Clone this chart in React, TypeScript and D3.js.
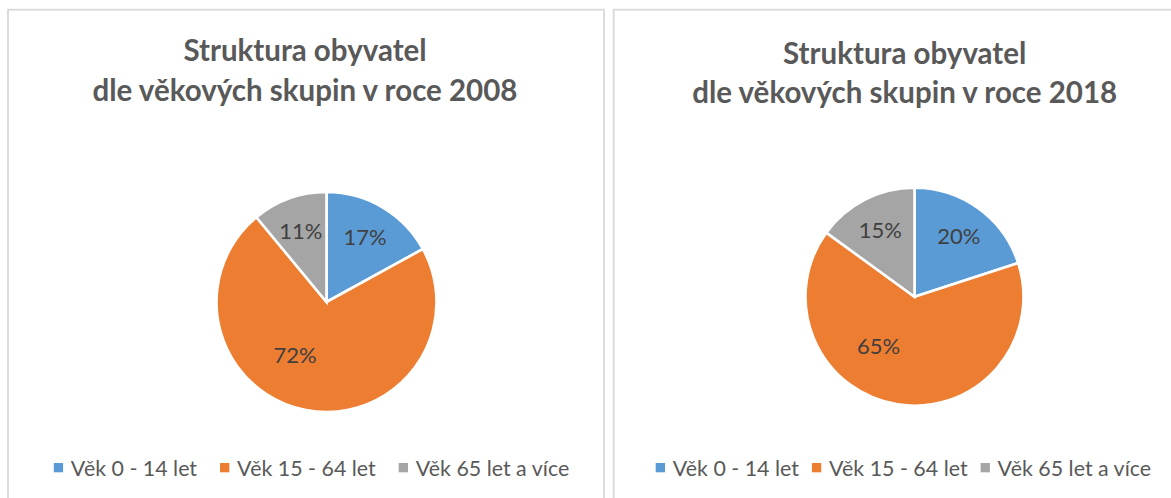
import React, { useEffect, useRef } from "react";
import * as d3 from "d3";

const categories = ["Věk 0 - 14 let", "Věk 15 - 64 let", "Věk 65 let a více"];
const values2008 = [17, 72, 11];
const values2018 = [20, 65, 15];
const titles2008 = ["Struktura obyvatel", "dle věkových skupin v roce 2008"];
const titles2018 = ["Struktura obyvatel", "dle věkových skupin v roce 2018"];
const colors = ["#5B9BD5", "#ED7D31", "#A5A5A5"];

const W = 1171;
const H = 498;
const FONT = "Lato, 'Open Sans', sans-serif";

interface PanelCfg {
  values: number[];
  titles: string[];
  x: number;
  y: number;
  w: number;
  cx: number;
  cy: number;
  r: number;
  titleY: number;
  legendCenter: number;
  legendGap: number;
}

const panels: PanelCfg[] = [
  { values: values2008, titles: titles2008, x: 8, y: 9.7, w: 596, cx: 326.5, cy: 302, r: 110, titleY: 61, legendCenter: 311.5, legendGap: 23 },
  { values: values2018, titles: titles2018, x: 613.7, y: 9.7, w: 584, cx: 914.5, cy: 296.7, r: 109, titleY: 63.5, legendCenter: 903.4, legendGap: 13 },
];

export default function App() {
  const ref = useRef<SVGSVGElement>(null);

  useEffect(() => {
    const svg = d3.select(ref.current);
    svg.selectAll("*").remove();
    svg.append("rect").attr("width", W).attr("height", H).attr("fill", "#fff");

    panels.forEach((p) => {
      const g = svg.append("g");
      g.append("rect")
        .attr("x", p.x)
        .attr("y", p.y)
        .attr("width", p.w)
        .attr("height", 600)
        .attr("fill", "#fff")
        .attr("stroke", "#D9D9D9")
        .attr("stroke-width", 1.8);

      const titleCx = p.x + p.w / 2;
      p.titles.forEach((t, i) => {
        g.append("text")
          .attr("x", titleCx - 1)
          .attr("y", p.titleY + i * 39.7)
          .attr("text-anchor", "middle")
          .attr("font-family", FONT)
          .attr("font-weight", 700)
          .attr("font-size", 29.5)
          .attr("fill", "#595959")
          .text(t);
      });

      const pie = d3.pie<number>().sort(null).value((d) => d);
      const arcs = pie(p.values);
      const arc = d3.arc<d3.PieArcDatum<number>>().innerRadius(0).outerRadius(p.r);
      const pg = g.append("g").attr("transform", `translate(${p.cx},${p.cy})`);
      pg.selectAll("path")
        .data(arcs)
        .join("path")
        .attr("d", arc)
        .attr("fill", (_d, i) => colors[i])
        .attr("stroke", "#fff")
        .attr("stroke-width", 2.6)
        .attr("stroke-linejoin", "miter");

      const firstMid = (arcs[0].startAngle + arcs[0].endAngle) / 2;
      pg.selectAll("text")
        .data(arcs)
        .join("text")
        .attr("transform", (d) => {
          const span = d.endAngle - d.startAngle;
          const big = span > Math.PI;
          const a = big ? firstMid + Math.PI : (d.startAngle + d.endAngle) / 2;
          const rr = big ? p.r * 0.56 : p.r * 0.69;
          return `translate(${Math.sin(a) * rr},${-Math.cos(a) * rr})`;
        })
        .attr("text-anchor", "middle")
        .attr("dy", "0.36em")
        .attr("font-family", FONT)
        .attr("font-size", 22)
        .attr("fill", "#404040")
        .text((d) => `${d.data}%`);

      // legend
      const lg = g.append("g");
      const items = categories.map((c, i) => {
        const it = lg.append("g");
        it.append("rect").attr("width", 9.3).attr("height", 9.3).attr("y", -13).attr("fill", colors[i]);
        const tx = it
          .append("text")
          .attr("x", 17)
          .attr("font-family", FONT)
          .attr("font-size", 21.4)
          .attr("fill", "#595959")
          .text(c);
        const tw = (tx.node() as SVGTextElement).getComputedTextLength();
        return { it, w: 17 + tw };
      });
      const total = d3.sum(items, (d) => d.w) + p.legendGap * (items.length - 1);
      let x = p.legendCenter - total / 2;
      items.forEach((d) => {
        d.it.attr("transform", `translate(${x},476)`);
        x += d.w + p.legendGap;
      });
    });
  }, []);

  return (
    <svg
      ref={ref}
      width={W}
      height={H}
      style={{ position: "absolute", left: 0, top: 0, display: "block" }}
    />
  );
}
